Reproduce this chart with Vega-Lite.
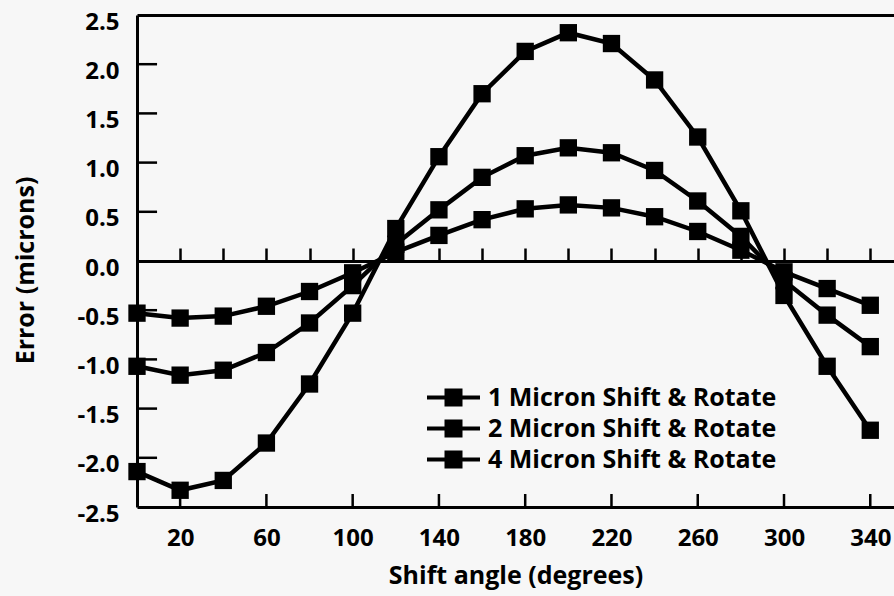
{
  "$schema": "https://vega.github.io/schema/vega-lite/v6.json",
  "autosize": "none",
  "width": 757,
  "height": 492,
  "padding": {"left": 137, "top": 15, "right": 0, "bottom": 89},
  "background": "#f7f7f7",
  "config": {
    "view": {"stroke": null},
    "font": "Open Sans",
    "axis": {"labelFont": "Open Sans", "titleFont": "Open Sans", "labelColor": "black", "titleColor": "black", "domainColor": "black", "tickColor": "black", "grid": false}
  },
  "data": {"values": [
    {"angle": 0, "series": "1 Micron Shift & Rotate", "error": -0.53},
    {"angle": 20, "series": "1 Micron Shift & Rotate", "error": -0.58},
    {"angle": 40, "series": "1 Micron Shift & Rotate", "error": -0.56},
    {"angle": 60, "series": "1 Micron Shift & Rotate", "error": -0.46},
    {"angle": 80, "series": "1 Micron Shift & Rotate", "error": -0.31},
    {"angle": 100, "series": "1 Micron Shift & Rotate", "error": -0.12},
    {"angle": 120, "series": "1 Micron Shift & Rotate", "error": 0.09},
    {"angle": 140, "series": "1 Micron Shift & Rotate", "error": 0.26},
    {"angle": 160, "series": "1 Micron Shift & Rotate", "error": 0.42},
    {"angle": 180, "series": "1 Micron Shift & Rotate", "error": 0.53},
    {"angle": 200, "series": "1 Micron Shift & Rotate", "error": 0.57},
    {"angle": 220, "series": "1 Micron Shift & Rotate", "error": 0.54},
    {"angle": 240, "series": "1 Micron Shift & Rotate", "error": 0.45},
    {"angle": 260, "series": "1 Micron Shift & Rotate", "error": 0.30},
    {"angle": 280, "series": "1 Micron Shift & Rotate", "error": 0.11},
    {"angle": 300, "series": "1 Micron Shift & Rotate", "error": -0.11},
    {"angle": 320, "series": "1 Micron Shift & Rotate", "error": -0.28},
    {"angle": 340, "series": "1 Micron Shift & Rotate", "error": -0.45},
    {"angle": 0, "series": "2 Micron Shift & Rotate", "error": -1.07},
    {"angle": 20, "series": "2 Micron Shift & Rotate", "error": -1.16},
    {"angle": 40, "series": "2 Micron Shift & Rotate", "error": -1.11},
    {"angle": 60, "series": "2 Micron Shift & Rotate", "error": -0.93},
    {"angle": 80, "series": "2 Micron Shift & Rotate", "error": -0.63},
    {"angle": 100, "series": "2 Micron Shift & Rotate", "error": -0.25},
    {"angle": 120, "series": "2 Micron Shift & Rotate", "error": 0.17},
    {"angle": 140, "series": "2 Micron Shift & Rotate", "error": 0.52},
    {"angle": 160, "series": "2 Micron Shift & Rotate", "error": 0.85},
    {"angle": 180, "series": "2 Micron Shift & Rotate", "error": 1.07},
    {"angle": 200, "series": "2 Micron Shift & Rotate", "error": 1.15},
    {"angle": 220, "series": "2 Micron Shift & Rotate", "error": 1.10},
    {"angle": 240, "series": "2 Micron Shift & Rotate", "error": 0.92},
    {"angle": 260, "series": "2 Micron Shift & Rotate", "error": 0.61},
    {"angle": 280, "series": "2 Micron Shift & Rotate", "error": 0.25},
    {"angle": 300, "series": "2 Micron Shift & Rotate", "error": -0.20},
    {"angle": 320, "series": "2 Micron Shift & Rotate", "error": -0.55},
    {"angle": 340, "series": "2 Micron Shift & Rotate", "error": -0.87},
    {"angle": 0, "series": "4 Micron Shift & Rotate", "error": -2.14},
    {"angle": 20, "series": "4 Micron Shift & Rotate", "error": -2.33},
    {"angle": 40, "series": "4 Micron Shift & Rotate", "error": -2.23},
    {"angle": 60, "series": "4 Micron Shift & Rotate", "error": -1.85},
    {"angle": 80, "series": "4 Micron Shift & Rotate", "error": -1.25},
    {"angle": 100, "series": "4 Micron Shift & Rotate", "error": -0.53},
    {"angle": 120, "series": "4 Micron Shift & Rotate", "error": 0.33},
    {"angle": 140, "series": "4 Micron Shift & Rotate", "error": 1.06},
    {"angle": 160, "series": "4 Micron Shift & Rotate", "error": 1.70},
    {"angle": 180, "series": "4 Micron Shift & Rotate", "error": 2.13},
    {"angle": 200, "series": "4 Micron Shift & Rotate", "error": 2.32},
    {"angle": 220, "series": "4 Micron Shift & Rotate", "error": 2.21},
    {"angle": 240, "series": "4 Micron Shift & Rotate", "error": 1.84},
    {"angle": 260, "series": "4 Micron Shift & Rotate", "error": 1.26},
    {"angle": 280, "series": "4 Micron Shift & Rotate", "error": 0.51},
    {"angle": 300, "series": "4 Micron Shift & Rotate", "error": -0.35},
    {"angle": 320, "series": "4 Micron Shift & Rotate", "error": -1.07},
    {"angle": 340, "series": "4 Micron Shift & Rotate", "error": -1.72}
  ]},
  "resolve": {"axis": {"x": "independent", "y": "independent"}},
  "layer": [
    {
      "mark": {"type": "point", "opacity": 0},
      "encoding": {
        "x": {"field": "angle", "type": "quantitative", "scale": {"domain": [0, 351], "nice": false, "zero": false},
          "axis": {"orient": "top", "ticks": false, "labels": false, "domainWidth": 3, "title": null}},
        "y": {"field": "error", "type": "quantitative", "scale": {"domain": [-2.5, 2.5], "nice": false}, "axis": null}
      }
    },
    {
      "mark": {"type": "point", "opacity": 0},
      "encoding": {
        "x": {"field": "angle", "type": "quantitative", "scale": {"domain": [0, 351], "nice": false, "zero": false},
          "axis": {"orient": "top", "offset": -246, "values": [20,40,60,80,100,120,140,160,180,200,220,240,260,280,300,320,340], "tickSize": 13, "tickWidth": 2.5, "domainWidth": 3, "labels": false, "title": null}},
        "y": {"field": "error", "type": "quantitative", "scale": {"domain": [-2.5, 2.5], "nice": false}, "axis": null}
      }
    },
    {
      "data": {"values": [{"t": 20}, {"t": 60}, {"t": 100}, {"t": 140}, {"t": 180}, {"t": 220}, {"t": 260}, {"t": 300}, {"t": 340}]},
      "mark": {"type": "rule", "color": "black", "strokeWidth": 2.5},
      "encoding": {
        "x": {"field": "t", "type": "quantitative", "axis": null},
        "y": {"datum": -2.5, "type": "quantitative", "axis": null},
        "y2": {"datum": -2.368}
      }
    },
    {
      "data": {"values": [{"v": -2}, {"v": -1.5}, {"v": -1}, {"v": -0.5}, {"v": 0.5}, {"v": 1}, {"v": 1.5}, {"v": 2}]},
      "mark": {"type": "rule", "color": "black", "strokeWidth": 2.5},
      "encoding": {
        "y": {"field": "v", "type": "quantitative", "axis": null},
        "x": {"datum": 0, "type": "quantitative", "axis": null},
        "x2": {"datum": 9.3}
      }
    },
    {
      "mark": {"type": "line", "color": "black", "strokeWidth": 4.5, "point": {"shape": "square", "size": 300, "filled": true, "opacity": 1}},
      "encoding": {
        "x": {"field": "angle", "type": "quantitative", "scale": {"domain": [0, 351], "nice": false, "zero": false},
          "axis": {"orient": "bottom", "values": [20,60,100,140,180,220,260,300,340], "ticks": false, "domainWidth": 3, "labelFontSize": 24, "labelFontWeight": "bold", "labelPadding": 19, "title": "Shift angle (degrees)", "titleFontSize": 25, "titleFontWeight": "bold", "titlePadding": 13}},
        "y": {"field": "error", "type": "quantitative", "scale": {"domain": [-2.5, 2.5], "nice": false},
          "axis": {"orient": "left", "values": [-2.5,-2,-1.5,-1,-0.5,0,0.5,1,1.5,2,2.5], "labelExpr": "datum.value < 0 ? '-' + format(-datum.value, '.1f') : format(datum.value, '.1f')", "ticks": false, "domainWidth": 3, "labelFontSize": 24, "labelFontWeight": "bold", "labelPadding": 18, "labelOffset": 7, "title": "Error (microns)", "titleFontSize": 25, "titleFontWeight": "bold", "titleX": -112, "titleY": 255, "titleAlign": "center", "titleBaseline": "middle", "titleAngle": -90}},
        "color": {"field": "series", "type": "nominal", "scale": {"range": ["black", "black", "black"]},
          "legend": {"orient": "none", "legendX": 304, "legendY": 370, "title": null, "padding": 0, "symbolType": "M-2.65,0H2.65M-0.7,-0.7H0.7V0.7H-0.7Z", "symbolSize": 400, "labelOffset": 22, "rowPadding": 0, "labelLimit": 500, "labelFont": "Open Sans", "labelFontSize": 25, "labelFontWeight": "bold", "labelColor": "black",
            "encode": {"symbols": {"update": {"fill": {"value": "black"}, "stroke": {"value": "black"}, "strokeWidth": {"value": 4}, "opacity": {"value": 1}}}}}}
      }
    }
  ]
}
